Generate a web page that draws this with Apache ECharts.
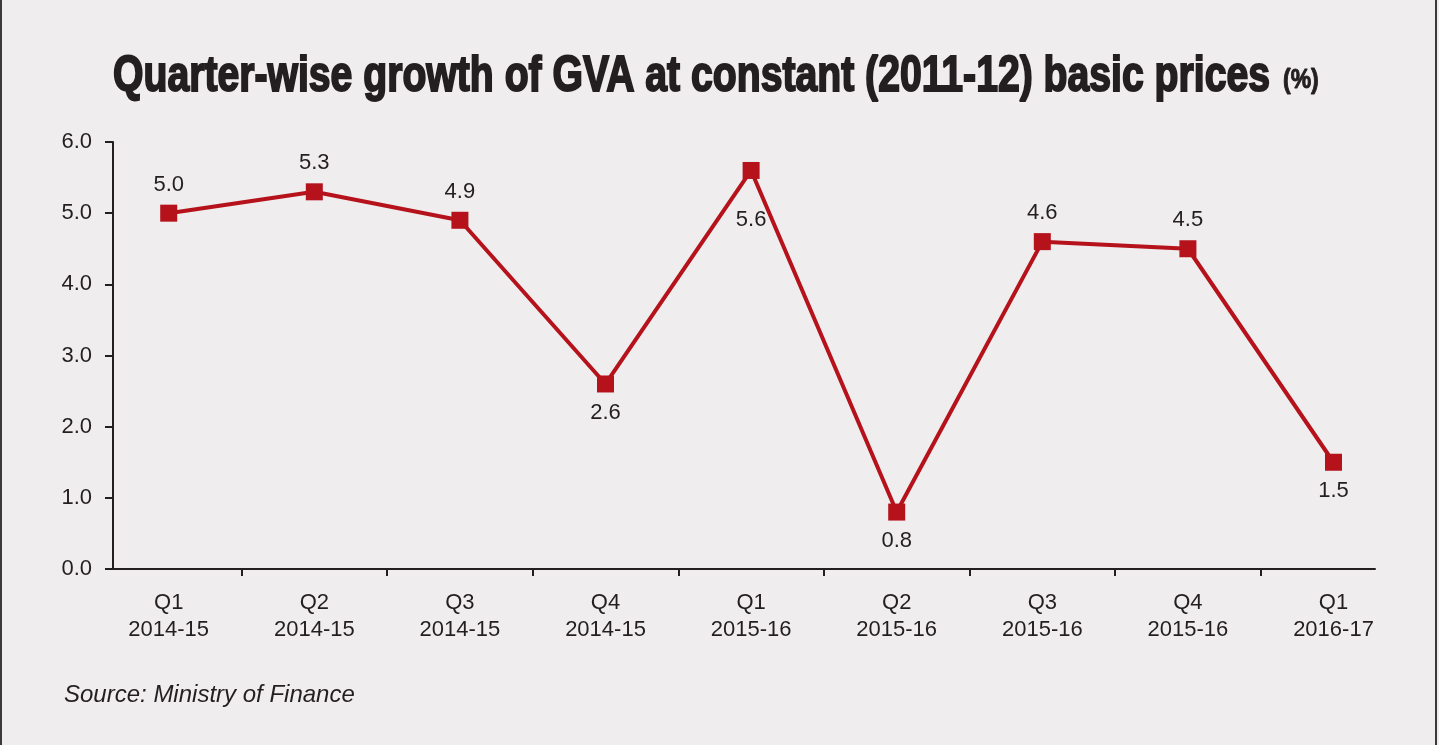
<!DOCTYPE html>
<html>
<head>
<meta charset="utf-8">
<title>Quarter-wise growth of GVA</title>
<script src="https://cdn.jsdelivr.net/npm/echarts@6/dist/echarts.min.js"></script>
<style>
  html, body { margin: 0; padding: 0; background: #efedee; }
  #chart { width: 1439px; height: 745px; }
</style>
</head>
<body>
<div id="chart"></div>
<script>
// data
var quarters = ['Q1', 'Q2', 'Q3', 'Q4', 'Q1', 'Q2', 'Q3', 'Q4', 'Q1'];
var years = ['2014-15', '2014-15', '2014-15', '2014-15', '2015-16', '2015-16', '2015-16', '2015-16', '2016-17'];
var growth = [5.0, 5.3, 4.9, 2.6, 5.6, 0.8, 4.6, 4.5, 1.5];
var yTicks = [0, 1, 2, 3, 4, 5, 6];

var titleText = 'Quarter-wise growth of GVA at constant (2011-12) basic prices';
var unitText = '(%)';
var sourceText = 'Source: Ministry of Finance';

// label under the point for these ones, the peak one sits a bit lower
var labelBelow = [3, 4, 5, 8];
var labelFar = [4];

var FONT = '"Liberation Sans", Arial, sans-serif';
var INK = '#231f20';
var RED = '#b5121b';

// title gets squeezed to the width it has in the picture
var ctx = document.createElement('canvas').getContext('2d');
ctx.font = 'bold 50px ' + FONT;
var titleW = ctx.measureText(titleText).width;
var titleScale = 1157 / titleW;

var points = growth.map(function (v, i) {
    return {
        value: [i, v],
        label: {
            position: labelBelow.indexOf(i) >= 0 ? 'bottom' : 'top',
            distance: labelFar.indexOf(i) >= 0 ? 30 : 9
        }
    };
});

var myChart = echarts.init(document.getElementById('chart'));

var option = {
    backgroundColor: '#efedee',
    animation: false,
    grid: { left: 113, right: 64, top: 142, bottom: 176 },
    xAxis: {
        type: 'value',
        min: -0.3826,
        max: 8.285,
        splitLine: { show: false },
        axisLine: { show: true, lineStyle: { color: INK, width: 2 } },
        axisTick: {
            show: true, length: 7, inside: false,
            lineStyle: { color: INK, width: 2 },
            customValues: quarters.slice(1).map(function (q, i) { return i + 0.5; })
        },
        axisLabel: {
            margin: 20,
            fontFamily: FONT, fontSize: 22, color: INK, lineHeight: 27,
            customValues: quarters.map(function (q, i) { return i; }),
            formatter: function (v) {
                return quarters[v] + '\n' + years[v];
            }
        }
    },
    yAxis: {
        type: 'value',
        min: yTicks[0],
        max: yTicks[yTicks.length - 1],
        interval: 1,
        splitLine: { show: false },
        axisLine: { show: true, onZero: false, lineStyle: { color: INK, width: 2 } },
        axisTick: { show: true, length: 8, lineStyle: { color: INK, width: 2 } },
        axisLabel: {
            margin: 21,
            fontFamily: FONT, fontSize: 22, color: INK,
            formatter: function (v) { return v.toFixed(1); }
        }
    },
    series: [{
        type: 'line',
        data: points,
        symbol: 'rect',
        symbolSize: 17,
        itemStyle: { color: RED },
        lineStyle: { color: RED, width: 4 },
        label: {
            show: true,
            fontFamily: FONT, fontSize: 22, color: INK,
            formatter: function (p) { return p.value[1].toFixed(1); }
        }
    }],
    graphic: [
        {
            type: 'text', x: 113, y: 77, scaleX: titleScale,
            style: {
                text: titleText, font: 'bold 50px ' + FONT,
                fill: INK, stroke: INK, lineWidth: 2,
                align: 'left', verticalAlign: 'middle'
            }
        },
        {
            type: 'text', x: 1283, y: 81, scaleX: 0.85,
            style: {
                text: unitText, font: 'bold 27px ' + FONT,
                fill: INK, stroke: INK, lineWidth: 1,
                align: 'left', verticalAlign: 'middle'
            }
        },
        {
            type: 'text', x: 64, y: 695,
            style: {
                text: sourceText, font: 'italic 24px ' + FONT,
                fill: INK, align: 'left', verticalAlign: 'middle'
            }
        },
        { type: 'line', shape: { x1: 1, y1: 0, x2: 1, y2: 745 }, style: { stroke: '#3a3a3a', lineWidth: 2 } },
        { type: 'line', shape: { x1: 1436, y1: 0, x2: 1436, y2: 745 }, style: { stroke: '#3a3a3a', lineWidth: 2 } }
    ]
};

myChart.setOption(option);
</script>
</body>
</html>
